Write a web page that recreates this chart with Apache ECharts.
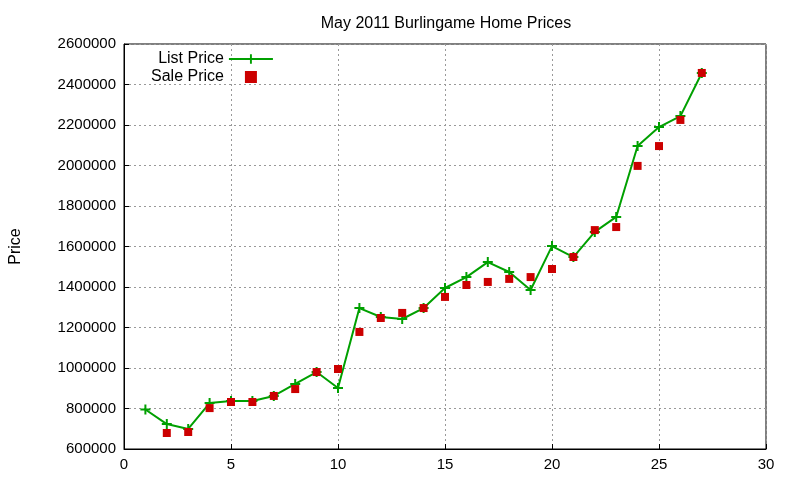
<!DOCTYPE html>
<html><head><meta charset="utf-8">
<script src="https://cdn.jsdelivr.net/npm/echarts@6/dist/echarts.min.js"></script>
<style>html,body{margin:0;background:#fff}#c{width:800px;height:480px}</style>
</head><body><div id="c"></div>
<script>
const listX = [1,2,3,4,5,6,7,8,9,10,11,12,13,14,15,16,17,18,19,20,21,22,23,24,25,26,27];
const listPrice = [795000,723000,699000,827000,837000,837000,862000,921000,980000,901000,1296000,1252000,1242000,1296000,1395000,1449000,1523000,1474000,1385000,1602000,1548000,1672000,1746000,2096000,2190000,2244000,2457000];
const saleX = [2,3,4,5,6,7,8,9,10,11,12,13,14,15,16,17,18,19,20,21,22,23,24,25,26,27];
const salePrice = [679000,684000,802000,832000,832000,862000,896000,980000,995000,1178000,1247000,1272000,1296000,1351000,1410000,1425000,1440000,1449000,1489000,1548000,1681000,1696000,1998000,2096000,2225000,2457000];
const plus = 'path://M4,0H6V4H10V6H6V10H4V6H0V4H4Z';
const font = 'Liberation Sans';
const ch = echarts.init(document.getElementById('c'));
ch.setOption({
  animation:false,
  textStyle:{fontFamily:font,color:'#000'},
  title:{text:'May 2011 Burlingame Home Prices',left:441,textAlign:'center',top:11,textStyle:{fontFamily:font,fontSize:16,fontWeight:'normal',color:'#000'}},
  legend:{orient:'vertical',left:146,top:46,align:'right',itemGap:2,itemWidth:44,itemHeight:12,symbolKeepAspect:true,
    textStyle:{fontFamily:font,fontSize:16,color:'#000'},
    data:[{name:'List Price'},{name:'Sale Price',icon:'path://M0,0H8V8H0Z'}]},
  grid:{left:120,right:34,top:44,bottom:31,show:true,borderColor:'#000',borderWidth:1},
  xAxis:{type:'value',min:0,max:30,interval:5,axisLine:{lineStyle:{color:'#000'}},axisTick:{inside:true,lineStyle:{color:'#000'}},
    axisLabel:{fontSize:15,color:'#000',fontFamily:font},splitLine:{lineStyle:{type:[2,3],color:'#999'}}},
  yAxis:{type:'value',min:600000,max:2600000,interval:200000,name:'Price',nameLocation:'middle',nameGap:100,nameRotate:90,
    nameTextStyle:{fontSize:16,color:'#000',fontFamily:font},axisLine:{lineStyle:{color:'#000'}},axisTick:{inside:true,lineStyle:{color:'#000'}},
    axisLabel:{fontSize:15,color:'#000',fontFamily:font,formatter:v=>String(v)},splitLine:{lineStyle:{type:[2,3],color:'#999'}}},
  series:[
    {name:'List Price',type:'line',data:listX.map((x,i)=>[x,listPrice[i]]),symbol:plus,symbolSize:10,showAllSymbol:true,
      lineStyle:{color:'#00a000',width:2},itemStyle:{color:'#00a000'}},
    {name:'Sale Price',type:'scatter',data:saleX.map((x,i)=>[x,salePrice[i]]),symbol:'rect',symbolSize:8,itemStyle:{color:'#cc0000',opacity:1},z:3}
  ]
});
</script></body></html>
